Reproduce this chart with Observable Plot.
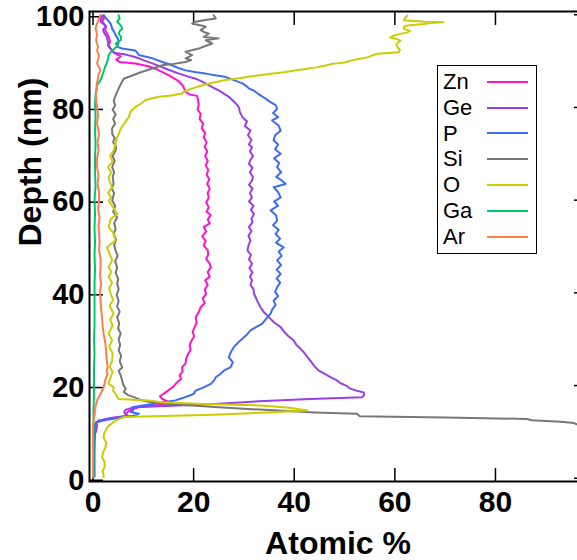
<!DOCTYPE html>
<html><head><meta charset="utf-8">
<script src="https://cdn.jsdelivr.net/npm/d3@7"></script>
<script src="https://cdn.jsdelivr.net/npm/@observablehq/plot@0.6"></script>
<style>
html,body{margin:0;padding:0;overflow:hidden;background:#fff;}
#wrap{position:relative;width:590px;height:560px;}
#legend{position:absolute;left:437px;top:65px;width:100px;height:189px;border:1.5px solid #000;box-sizing:border-box;background:#fff;
  font-family:"Liberation Sans",Arial,sans-serif;font-size:22px;padding-top:3px;}
.row{display:flex;align-items:center;height:25.8px;}
.lab{width:44px;padding-left:5px;line-height:25.8px;}
.sw{width:41px;height:2px;}
</style></head>
<body>
<div id="wrap"><div id="legend"></div></div>
<script>
// Series: [depth (nm), atomic %]
const elements = ["Zn","Ge","P","Si","O","Ga","Ar"];
const colors = ["#ff14cc","#9a3ee8","#3d6cf5","#777777","#cccc00","#00c86a","#ff7f4a"];
const xTicks = [0,20,40,60,80];
const yTicks = [0,20,40,60,80,100];

const Zn = [[99.8,1.5],[99.3,2.2],[98.5,1.8],[97.5,2.6],[96.7,2.4],[95.5,3.0],[94.2,3.4],[93.3,3.0],[92.3,3.8],[91.6,4.5],[91.0,5.5],[90.3,4.6],[89.8,5.3],[89.5,8.4],[88.9,11.0],[88.3,12.5],[87.5,14.0],[86.9,15.1],[85.9,16.7],[84.8,17.8],[83.4,18.4],[82.8,19.2],[82.5,20.7],[81.5,20.9],[80.5,21.0],[79.5,20.8],[78.6,21.4],[77.5,21.2],[76.5,21.9],[75.5,21.6],[74.5,22.3],[73.5,22.0],[72.5,22.6],[71.5,22.2],[70.5,22.7],[69.5,22.3],[68.5,22.8],[67.5,22.4],[66.5,22.9],[65.5,22.6],[64.5,23.1],[63.5,22.7],[62.5,23.2],[61.5,22.8],[60.5,23.0],[59.5,22.5],[58.5,23.0],[57.5,22.6],[56.8,23.4],[55.8,22.8],[55.0,23.2],[54.2,22.0],[53.2,22.5],[52.2,21.7],[51.2,22.4],[50.2,22.0],[49.2,22.8],[48.3,22.9],[47.3,22.5],[46.3,23.2],[45.5,23.4],[44.5,22.8],[43.5,23.2],[42.7,22.3],[41.7,22.8],[40.7,22.2],[39.8,22.5],[38.8,21.8],[37.8,22.2],[36.9,21.4],[35.8,21.0],[34.7,20.4],[33.6,20.6],[32.6,20.2],[31.6,19.8],[30.6,20.1],[29.7,19.6],[28.7,19.2],[27.7,19.4],[26.8,18.9],[25.8,18.5],[24.8,18.4],[23.9,17.7],[23.0,17.8],[22.2,17.2],[21.4,17.5],[20.6,16.6],[19.8,16.0],[18.9,14.9],[18.2,14.0],[17.7,13.3],[17.1,13.8],[16.6,14.8],[16.2,15.4],[15.8,13.0],[15.3,9.0],[14.6,7.2],[14.0,6.6],[13.5,6.8],[13.0,3.5],[12.4,1.0],[11.8,0.5],[10.5,0.3],[8,0.2],[5,0.2],[2,0.2],[0.3,0.2]];

const Ge = [[99.9,2.1],[99.2,1.6],[98.5,1.5],[97.8,2.3],[97.4,2.5],[96.8,2.0],[96.3,2.1],[95.5,2.6],[94.9,2.8],[94.0,3.0],[93.4,3.1],[92.5,3.6],[91.8,4.1],[91.4,6.5],[91.0,8.0],[90.6,9.1],[90.0,10.5],[89.5,11.8],[88.9,13.2],[88.4,14.4],[87.8,15.8],[87.3,17.1],[86.7,18.8],[86.2,20.4],[85.5,21.8],[84.8,23.0],[84.2,24.0],[83.7,25.0],[83.0,26.0],[82.3,27.0],[81.5,27.8],[80.5,28.7],[80.0,29.0],[79.0,29.2],[77.9,29.7],[77.0,30.6],[76.0,30.2],[75.0,31.3],[74.0,30.8],[73.0,31.5],[72.0,31.0],[71.4,31.6],[70.5,31.2],[69.5,31.8],[68.5,31.2],[67.8,31.0],[67.0,31.7],[66.0,31.2],[65.0,31.8],[64.2,31.6],[63.3,31.0],[62.5,31.7],[61.5,31.2],[60.6,31.6],[59.7,31.0],[58.8,31.9],[57.9,31.4],[57.0,32.0],[56.0,31.5],[55.2,31.7],[54.2,31.0],[53.3,31.5],[52.3,30.9],[51.3,31.3],[50.2,30.9],[49.1,30.7],[48.2,31.4],[47.2,31.0],[46.3,31.6],[45.3,31.1],[44.4,31.7],[43.5,31.2],[42.7,31.6],[41.7,31.3],[40.8,31.9],[39.8,32.0],[38.9,32.4],[37.9,32.8],[36.9,33.3],[35.8,34.0],[34.7,35.0],[33.6,36.0],[32.6,37.3],[31.6,38.0],[30.7,38.8],[29.7,39.9],[28.8,40.4],[28.3,40.9],[27.3,41.8],[26.2,42.6],[25.2,43.3],[24.2,44.0],[23.2,44.9],[22.2,46.6],[21.8,47.2],[21.1,48.5],[20.5,49.2],[20.0,50.3],[19.4,51.0],[18.9,52.4],[18.5,53.8],[18.0,53.9],[17.5,53.5],[17.1,43.2],[16.6,33.0],[16.0,24.0],[15.5,12.0],[15.3,8.1],[14.8,6.5],[14.3,6.2],[13.9,6.4],[13.5,6.8],[13.0,5.0],[12.6,2.8],[12.1,0.6],[11.5,0.8],[10.5,0.7],[9.5,0.4],[8,0.3],[5,0.3],[2,0.3],[0.3,0.3]];

const P = [[99.9,2.1],[99.0,2.8],[98.1,3.5],[97.0,3.8],[96.3,4.2],[95.6,4.5],[94.9,4.9],[94.2,5.1],[93.1,4.8],[92.7,5.8],[92.3,8.4],[91.8,8.8],[91.3,9.1],[90.6,11.8],[89.8,13.8],[89.1,15.7],[88.5,17.0],[88.0,18.4],[87.6,20.5],[87.3,22.4],[86.9,24.5],[86.6,26.3],[85.9,28.0],[85.2,29.7],[84.6,30.5],[84.1,31.0],[83.6,32.0],[82.8,33.0],[81.9,34.3],[81.2,35.2],[80.5,36.3],[79.7,36.6],[78.8,35.8],[77.9,36.8],[77.2,35.6],[76.1,36.9],[75.0,37.3],[74.0,36.2],[72.9,35.9],[72.0,36.8],[71.0,36.2],[70.0,37.3],[69.0,36.0],[68.0,37.0],[67.1,36.6],[66.0,37.4],[65.0,36.4],[64.2,37.6],[63.5,38.3],[62.8,35.9],[61.7,36.8],[60.6,37.3],[59.7,36.0],[58.8,36.8],[57.8,35.3],[56.7,36.4],[55.6,36.6],[54.6,35.8],[53.6,36.9],[52.7,36.3],[51.7,37.2],[50.8,36.4],[49.8,37.9],[48.9,36.9],[48.0,37.5],[47.0,36.6],[46.0,37.4],[45.0,36.5],[44.1,37.3],[43.1,36.5],[42.2,37.2],[41.2,36.6],[40.2,36.2],[39.3,36.8],[38.3,35.9],[37.4,36.3],[36.4,35.6],[35.5,35.3],[34.4,34.4],[33.3,33.6],[32.6,32.4],[31.9,31.3],[31.0,30.6],[30.2,29.8],[29.7,29.3],[29.0,28.6],[28.3,28.0],[27.2,27.4],[26.1,27.0],[25.0,27.8],[23.9,27.3],[23.2,26.0],[22.5,25.3],[21.8,24.4],[21.0,24.0],[20.4,23.5],[19.6,22.0],[18.9,20.4],[18.2,20.0],[17.8,19.1],[17.3,17.8],[16.8,16.4],[16.4,14.0],[16.0,11.8],[15.3,7.8],[14.8,8.0],[14.3,7.5],[13.9,9.1],[13.5,8.0],[13.0,4.0],[12.4,1.2],[11.8,0.5],[10.5,0.3],[8,0.3],[5,0.2],[2,0.2],[0.3,0.2]];

const Si = [[99.9,24.0],[99.2,24.4],[98.8,22.0],[98.5,20.4],[98.1,19.7],[97.7,21.5],[97.4,22.4],[96.7,21.4],[96.3,22.0],[95.9,23.0],[95.2,22.0],[94.9,25.0],[94.5,22.4],[93.8,23.7],[93.3,22.5],[92.7,21.0],[92.0,18.4],[91.3,19.7],[90.6,18.4],[90.2,19.5],[89.8,18.4],[89.4,16.0],[89.1,13.8],[88.4,11.8],[87.6,9.5],[86.9,7.8],[86.2,6.1],[85.2,5.6],[84.1,5.1],[82.6,4.5],[81.5,4.1],[80.5,4.4],[79.5,3.9],[78.5,4.5],[77.5,4.0],[76.5,4.4],[75.5,3.8],[74.3,3.8],[73.5,4.3],[72.5,4.0],[71.5,4.6],[70.7,4.5],[69.5,3.9],[68.5,4.3],[67.1,3.8],[66.0,4.2],[65.0,3.9],[63.5,4.1],[62.5,3.7],[61.5,4.2],[59.9,3.8],[58.8,4.4],[57.5,4.0],[56.3,4.8],[55.0,4.2],[53.8,4.5],[52.7,4.1],[51.5,4.6],[50.3,4.2],[49.1,4.5],[48.0,4.9],[46.8,4.4],[45.5,4.8],[44.3,4.5],[43.0,5.0],[41.9,4.8],[40.8,5.1],[39.5,4.7],[38.3,5.1],[37.1,4.8],[35.9,5.3],[34.7,4.8],[33.5,5.2],[32.3,5.0],[31.2,5.5],[30.0,5.1],[28.8,5.4],[27.6,5.1],[26.4,5.6],[25.2,5.3],[23.9,5.8],[23.2,5.1],[22.2,5.5],[21.1,5.8],[20.2,6.0],[19.3,6.5],[18.6,6.1],[18.0,6.9],[17.5,8.1],[16.9,9.5],[16.3,12.0],[15.8,18.0],[15.3,25.0],[14.7,35.0],[14.2,44.0],[13.9,52.5],[13.4,53.0],[13.1,70.0],[12.8,86.3],[12.5,87.2],[12.2,93.0],[11.9,95.6],[11.5,96.5],[11.0,99.0],[0.0,99.0]];

const O = [[99.8,62.5],[99.3,62.0],[98.8,61.8],[98.5,66.0],[98.4,69.7],[98.2,67.0],[98.0,65.8],[97.7,62.5],[97.4,61.8],[97.0,61.8],[96.5,63.0],[96.2,62.5],[95.6,60.0],[95.1,59.1],[94.7,60.5],[94.4,61.1],[93.7,60.3],[93.0,60.5],[92.4,61.0],[91.9,60.8],[91.6,56.5],[91.2,55.5],[90.8,54.5],[90.4,52.5],[90.1,51.2],[89.7,50.0],[89.4,47.5],[89.0,46.0],[88.7,44.6],[88.2,41.5],[87.6,37.9],[87.2,35.0],[86.7,31.3],[86.3,29.0],[85.9,26.3],[85.4,24.0],[84.8,21.7],[84.0,19.5],[83.4,18.0],[83.0,17.7],[82.6,15.5],[82.3,13.1],[81.6,10.4],[80.8,9.5],[80.1,8.4],[79.2,7.5],[77.9,7.1],[76.5,6.2],[75.4,5.5],[74.3,5.1],[73.0,4.6],[71.8,4.4],[70.7,4.1],[69.5,3.4],[68.3,3.9],[67.1,3.0],[66.0,3.6],[64.9,3.1],[63.8,3.4],[62.8,3.8],[61.6,3.0],[60.5,3.6],[59.9,3.1],[58.6,3.9],[57.0,4.8],[55.9,3.5],[54.2,3.1],[53.0,4.0],[51.3,4.5],[50.5,3.5],[49.8,2.8],[48.4,3.3],[47.0,3.8],[45.6,3.1],[44.5,3.6],[43.4,3.1],[42.2,3.8],[41.0,3.2],[39.8,3.5],[38.5,4.0],[37.2,3.3],[35.5,4.1],[34.2,3.4],[33.0,3.9],[31.2,3.1],[29.8,3.8],[28.4,3.2],[26.9,3.9],[25.4,3.8],[24.0,3.3],[22.9,3.9],[21.8,3.5],[20.4,3.1],[19.6,4.1],[18.9,4.0],[18.2,4.5],[17.6,4.8],[17.1,5.1],[16.8,11.1],[16.4,13.5],[16.0,22.0],[15.7,33.3],[15.2,39.0],[14.6,42.6],[14.2,34.6],[13.7,24.0],[13.4,12.0],[13.2,6.1],[12.6,4.8],[12.1,4.1],[11.2,3.0],[10.3,2.5],[9.5,2.2],[8.8,2.1],[7.7,2.6],[6.7,2.5],[5.6,2.0],[4.5,1.8],[3.5,2.3],[2.4,2.3],[1.5,1.9],[0.6,2.1],[0.2,2.1]];

const Ga = [[99.9,5.1],[99.2,5.3],[98.5,4.8],[97.7,5.5],[97.0,5.8],[96.5,5.3],[95.9,5.1],[95.2,5.6],[94.5,5.5],[93.8,4.5],[93.3,4.9],[92.3,3.8],[91.3,3.1],[90.5,3.0],[89.8,2.8],[88.8,2.4],[87.7,2.1],[86.8,1.8],[85.9,1.5],[84.8,0.8],[83.5,0.6],[82.6,0.5],[80.5,0.4],[78,0.5],[75,0.4],[72,0.5],[69,0.4],[66,0.4],[63,0.5],[60,0.3],[57,0.4],[54,0.3],[51,0.4],[48,0.3],[45,0.4],[42,0.3],[39,0.3],[36,0.3],[33,0.3],[30,0.2],[27,0.3],[24,0.2],[21,0.2],[18,0.2],[15,0.1],[12,0.1],[9,0.1],[6,0.1],[3,0.1],[0.2,0.1]];

const Ar = [[99.9,1.5],[99.2,1.2],[98.1,0.8],[97.0,0.5],[96.3,0.7],[95.6,0.8],[94.5,0.6],[93.1,1.0],[92.2,0.8],[91.3,1.2],[90.4,1.0],[89.5,0.8],[88.7,1.2],[88.0,1.5],[87.1,1.1],[86.2,1.0],[85.2,0.7],[84.1,0.8],[82.9,0.6],[81.9,0.6],[80.1,0.8],[78.5,1.0],[76.5,0.8],[74.3,1.2],[72.5,0.9],[70.7,1.1],[69.0,0.8],[67.1,0.8],[65.3,1.1],[63.5,0.9],[61.7,1.2],[59.9,1.2],[58.0,1.0],[56.3,1.3],[54.5,1.1],[52.7,1.2],[50.9,1.3],[49.1,1.2],[47.3,1.5],[45.5,1.5],[43.7,1.4],[41.9,1.6],[40.1,1.4],[38.3,1.5],[36.5,1.6],[34.7,1.8],[33.0,1.9],[31.2,2.1],[29.4,2.4],[27.6,2.6],[25.8,2.7],[23.9,2.9],[23.2,2.7],[22.5,2.9],[21.4,2.5],[19.6,2.1],[18.2,1.5],[16.8,0.8],[15.5,0.5],[14.6,0.4],[13.0,0.2],[11.7,0.0],[9,0.0],[6,0.0],[3,0.0],[0.2,0.0]];

const series = [Zn, Ge, P, Si, O, Ga, Ar];
const font = "Liberation Sans, Arial, Helvetica, sans-serif";

const lines = series.map((s, i) => Plot.line(s, {x: d => d[1], y: d => d[0], stroke: colors[i], strokeWidth: 2, clip: true}));

const chart = Plot.plot({
  width: 590, height: 560,
  marginLeft: 89, marginRight: 4, marginTop: 11, marginBottom: 79,
  style: {fontFamily: font, background: "white", color: "black"},
  x: {domain: [-0.7, 98.1]},
  y: {domain: [-0.7, 100.7]},
  marks: [
    Plot.axisX(xTicks, {anchor: "bottom", tickSize: -13, tickPadding: 22, fontSize: 30, fontWeight: "bold", strokeWidth: 1.5, label: null, tickFormat: d => String(d)}),
    Plot.axisX(xTicks, {anchor: "top", tickSize: -13, tickPadding: 0, strokeWidth: 1.5, label: null, tickFormat: () => ""}),
    Plot.axisY(yTicks, {anchor: "left", tickSize: -14, tickPadding: 19, dy: 2, fontSize: 29, fontWeight: "bold", strokeWidth: 1.5, label: null, tickFormat: d => String(d)}),
    Plot.axisY(yTicks, {anchor: "right", tickSize: -13, tickPadding: 0, strokeWidth: 1.5, label: null, tickFormat: () => ""}),
    ...lines,
    Plot.frame({stroke: "black", strokeWidth: 2}),
    Plot.text(["Atomic %"], {text: d => d, frameAnchor: "bottom", dy: 62, fontSize: 32, fontWeight: "bold", lineAnchor: "middle"}),
    Plot.text(["Depth (nm)"], {text: d => d, frameAnchor: "left", dx: -59, rotate: -90, fontSize: 32, fontWeight: "bold", lineAnchor: "middle"})
  ]
});
const wrap = document.getElementById("wrap");
wrap.insertBefore(chart, wrap.firstChild);

const legend = document.getElementById("legend");
elements.forEach((e, i) => {
  const row = document.createElement("div"); row.className = "row";
  const lab = document.createElement("span"); lab.className = "lab"; lab.textContent = e;
  const sw = document.createElement("span"); sw.className = "sw"; sw.style.background = colors[i];
  row.appendChild(lab); row.appendChild(sw); legend.appendChild(row);
});
</script>
</body></html>
